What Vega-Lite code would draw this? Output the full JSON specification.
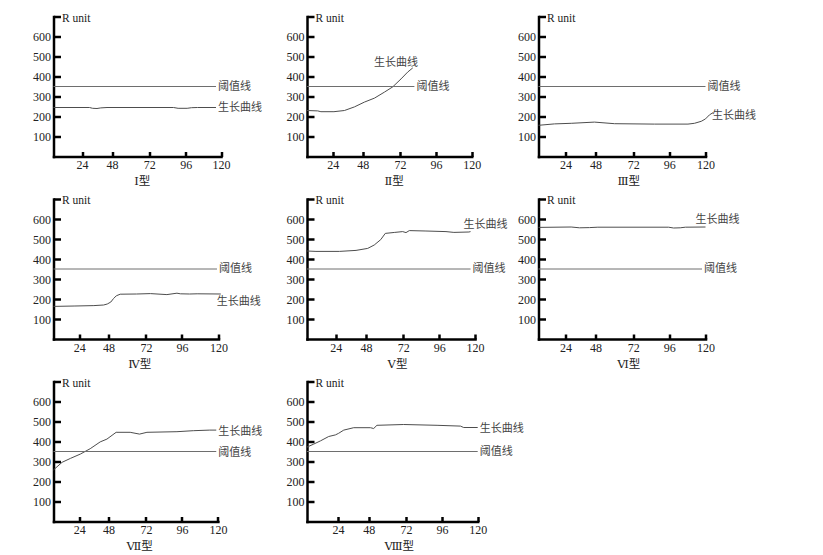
{
  "$schema": "https://vega.github.io/schema/vega-lite/v6.json",
  "background": "white",
  "padding": {"left": 32.5, "top": 10.5, "right": 0, "bottom": 0},
  "datasets": {
    "curves": [
      {"p":"Ⅰ","s":"生长曲线","x":0,"y":245},{"p":"Ⅰ","s":"生长曲线","x":30,"y":245},{"p":"Ⅰ","s":"生长曲线","x":32.5,"y":241},{"p":"Ⅰ","s":"生长曲线","x":36,"y":240},{"p":"Ⅰ","s":"生长曲线","x":39,"y":243},{"p":"Ⅰ","s":"生长曲线","x":44,"y":245},{"p":"Ⅰ","s":"生长曲线","x":88,"y":245},{"p":"Ⅰ","s":"生长曲线","x":91,"y":241},{"p":"Ⅰ","s":"生长曲线","x":97,"y":241},{"p":"Ⅰ","s":"生长曲线","x":100,"y":244},{"p":"Ⅰ","s":"生长曲线","x":104,"y":245},{"p":"Ⅰ","s":"生长曲线","x":116.6,"y":245},
      {"p":"Ⅰ","s":"阈值线","x":0,"y":350},{"p":"Ⅰ","s":"阈值线","x":116.6,"y":350},
      {"p":"Ⅱ","s":"生长曲线","x":0,"y":230},{"p":"Ⅱ","s":"生长曲线","x":10,"y":228},{"p":"Ⅱ","s":"生长曲线","x":13,"y":224},{"p":"Ⅱ","s":"生长曲线","x":25,"y":224},{"p":"Ⅱ","s":"生长曲线","x":33.4,"y":230},{"p":"Ⅱ","s":"生长曲线","x":41.4,"y":248},{"p":"Ⅱ","s":"生长曲线","x":49.1,"y":272},{"p":"Ⅱ","s":"生长曲线","x":55.6,"y":292},{"p":"Ⅱ","s":"生长曲线","x":62,"y":322},{"p":"Ⅱ","s":"生长曲线","x":67.3,"y":348},{"p":"Ⅱ","s":"生长曲线","x":72.7,"y":388},{"p":"Ⅱ","s":"生长曲线","x":77.1,"y":422},{"p":"Ⅱ","s":"生长曲线","x":80.5,"y":443},
      {"p":"Ⅱ","s":"阈值线","x":0,"y":350},{"p":"Ⅱ","s":"阈值线","x":81.6,"y":350},
      {"p":"Ⅲ","s":"生长曲线","x":0,"y":156},{"p":"Ⅲ","s":"生长曲线","x":14.2,"y":163},{"p":"Ⅲ","s":"生长曲线","x":28.6,"y":166},{"p":"Ⅲ","s":"生长曲线","x":47.2,"y":172},{"p":"Ⅲ","s":"生长曲线","x":60.1,"y":164},{"p":"Ⅲ","s":"生长曲线","x":86.2,"y":162},{"p":"Ⅲ","s":"生长曲线","x":108.4,"y":162},{"p":"Ⅲ","s":"生长曲线","x":112.7,"y":166},{"p":"Ⅲ","s":"生长曲线","x":117.2,"y":176},{"p":"Ⅲ","s":"生长曲线","x":120,"y":188},{"p":"Ⅲ","s":"生长曲线","x":122.6,"y":208},{"p":"Ⅲ","s":"生长曲线","x":124.9,"y":219},
      {"p":"Ⅲ","s":"阈值线","x":0,"y":350},{"p":"Ⅲ","s":"阈值线","x":120,"y":350},
      {"p":"Ⅳ","s":"生长曲线","x":0,"y":163},{"p":"Ⅳ","s":"生长曲线","x":20,"y":165},{"p":"Ⅳ","s":"生长曲线","x":36,"y":167},{"p":"Ⅳ","s":"生长曲线","x":44,"y":170},{"p":"Ⅳ","s":"生长曲线","x":47,"y":175},{"p":"Ⅳ","s":"生长曲线","x":49.5,"y":185},{"p":"Ⅳ","s":"生长曲线","x":51.2,"y":202},{"p":"Ⅳ","s":"生长曲线","x":53,"y":216},{"p":"Ⅳ","s":"生长曲线","x":55.5,"y":224},{"p":"Ⅳ","s":"生长曲线","x":66,"y":225},{"p":"Ⅳ","s":"生长曲线","x":75,"y":227},{"p":"Ⅳ","s":"生长曲线","x":86,"y":222},{"p":"Ⅳ","s":"生长曲线","x":92.7,"y":229},{"p":"Ⅳ","s":"生长曲线","x":95,"y":226},{"p":"Ⅳ","s":"生长曲线","x":101,"y":225},{"p":"Ⅳ","s":"生长曲线","x":106,"y":226},{"p":"Ⅳ","s":"生长曲线","x":121.5,"y":225},
      {"p":"Ⅳ","s":"阈值线","x":0,"y":350},{"p":"Ⅳ","s":"阈值线","x":119,"y":350},
      {"p":"Ⅴ","s":"生长曲线","x":0,"y":440},{"p":"Ⅴ","s":"生长曲线","x":7.5,"y":438},{"p":"Ⅴ","s":"生长曲线","x":26.9,"y":438},{"p":"Ⅴ","s":"生长曲线","x":40.1,"y":443},{"p":"Ⅴ","s":"生长曲线","x":49.1,"y":453},{"p":"Ⅴ","s":"生长曲线","x":53.3,"y":470},{"p":"Ⅴ","s":"生长曲线","x":57.5,"y":497},{"p":"Ⅴ","s":"生长曲线","x":60.4,"y":528},{"p":"Ⅴ","s":"生长曲线","x":66.5,"y":533},{"p":"Ⅴ","s":"生长曲线","x":71.6,"y":537},{"p":"Ⅴ","s":"生长曲线","x":73.8,"y":532},{"p":"Ⅴ","s":"生长曲线","x":76,"y":542},{"p":"Ⅴ","s":"生长曲线","x":87.1,"y":540},{"p":"Ⅴ","s":"生长曲线","x":100.5,"y":537},{"p":"Ⅴ","s":"生长曲线","x":105.8,"y":533},{"p":"Ⅴ","s":"生长曲线","x":115.9,"y":535},{"p":"Ⅴ","s":"生长曲线","x":117,"y":537},
      {"p":"Ⅴ","s":"阈值线","x":0,"y":350},{"p":"Ⅴ","s":"阈值线","x":117,"y":350},
      {"p":"Ⅵ","s":"生长曲线","x":0,"y":558},{"p":"Ⅵ","s":"生长曲线","x":28.5,"y":560},{"p":"Ⅵ","s":"生长曲线","x":35.2,"y":556},{"p":"Ⅵ","s":"生长曲线","x":43.2,"y":557},{"p":"Ⅵ","s":"生长曲线","x":49.5,"y":559},{"p":"Ⅵ","s":"生长曲线","x":95.6,"y":559},{"p":"Ⅵ","s":"生长曲线","x":98.9,"y":555},{"p":"Ⅵ","s":"生长曲线","x":103.3,"y":556},{"p":"Ⅵ","s":"生长曲线","x":106.7,"y":559},{"p":"Ⅵ","s":"生长曲线","x":120,"y":560},
      {"p":"Ⅵ","s":"阈值线","x":0,"y":350},{"p":"Ⅵ","s":"阈值线","x":117.7,"y":350},
      {"p":"Ⅶ","s":"生长曲线","x":0,"y":258},{"p":"Ⅶ","s":"生长曲线","x":8,"y":296},{"p":"Ⅶ","s":"生长曲线","x":16,"y":316},{"p":"Ⅶ","s":"生长曲线","x":24.9,"y":337},{"p":"Ⅶ","s":"生长曲线","x":33,"y":364},{"p":"Ⅶ","s":"生长曲线","x":41.2,"y":398},{"p":"Ⅶ","s":"生长曲线","x":46.7,"y":412},{"p":"Ⅶ","s":"生长曲线","x":52.9,"y":446},{"p":"Ⅶ","s":"生长曲线","x":61.9,"y":446},{"p":"Ⅶ","s":"生长曲线","x":67.9,"y":437},{"p":"Ⅶ","s":"生长曲线","x":72.7,"y":446},{"p":"Ⅶ","s":"生长曲线","x":92.7,"y":449},{"p":"Ⅶ","s":"生长曲线","x":103.6,"y":454},{"p":"Ⅶ","s":"生长曲线","x":114.6,"y":457},{"p":"Ⅶ","s":"生长曲线","x":118.9,"y":457},
      {"p":"Ⅶ","s":"阈值线","x":0,"y":350},{"p":"Ⅶ","s":"阈值线","x":118.9,"y":350},
      {"p":"Ⅷ","s":"生长曲线","x":0,"y":372},{"p":"Ⅷ","s":"生长曲线","x":5.2,"y":387},{"p":"Ⅷ","s":"生长曲线","x":10.4,"y":403},{"p":"Ⅷ","s":"生长曲线","x":16.8,"y":425},{"p":"Ⅷ","s":"生长曲线","x":22,"y":433},{"p":"Ⅷ","s":"生长曲线","x":24.5,"y":441},{"p":"Ⅷ","s":"生长曲线","x":28.5,"y":457},{"p":"Ⅷ","s":"生长曲线","x":36.3,"y":469},{"p":"Ⅷ","s":"生长曲线","x":49.1,"y":469},{"p":"Ⅷ","s":"生长曲线","x":51.2,"y":465},{"p":"Ⅷ","s":"生长曲线","x":53.3,"y":481},{"p":"Ⅷ","s":"生长曲线","x":70.5,"y":485},{"p":"Ⅷ","s":"生长曲线","x":92.7,"y":481},{"p":"Ⅷ","s":"生长曲线","x":108.4,"y":477},{"p":"Ⅷ","s":"生长曲线","x":110.6,"y":470},{"p":"Ⅷ","s":"生长曲线","x":120,"y":470},
      {"p":"Ⅷ","s":"阈值线","x":0,"y":350},{"p":"Ⅷ","s":"阈值线","x":120,"y":350}
    ],
    "labels": [
      {"p":"Ⅰ","t":"阈值线","x":116.6,"y":350},{"p":"Ⅰ","t":"生长曲线","x":116.6,"y":245},
      {"p":"Ⅱ","t":"阈值线","x":81.6,"y":350},{"p":"Ⅱ","t":"生长曲线","x":54,"y":467},
      {"p":"Ⅲ","t":"阈值线","x":120,"y":350},{"p":"Ⅲ","t":"生长曲线","x":123,"y":205},
      {"p":"Ⅳ","t":"阈值线","x":119,"y":350},{"p":"Ⅳ","t":"生长曲线","x":117.5,"y":187},
      {"p":"Ⅴ","t":"阈值线","x":117,"y":350},{"p":"Ⅴ","t":"生长曲线","x":111,"y":570},
      {"p":"Ⅵ","t":"阈值线","x":117.7,"y":350},{"p":"Ⅵ","t":"生长曲线","x":112,"y":595},
      {"p":"Ⅶ","t":"阈值线","x":118.9,"y":345},{"p":"Ⅶ","t":"生长曲线","x":118.9,"y":450},
      {"p":"Ⅷ","t":"阈值线","x":120,"y":350},{"p":"Ⅷ","t":"生长曲线","x":120,"y":465}
    ]
  },
  "concat": [
    {"width": 193, "height": 140,
     "encoding": {
       "x": {"field": "x", "type": "quantitative", "scale": {"domain": [0,24,48,72,96,120], "range": [0,28.5,58.5,95.8,132.2,167.5]}, "axis": {"values": [24,48,72,96,120], "title": "Ⅰ型", "titleX": 88.2}},
       "y": {"field": "y", "type": "quantitative", "scale": {"domain": [0,700]}, "axis": {"values": [100,200,300,400,500,600,700], "labelExpr": "datum.value == 700 ? '' : datum.label", "title": "R unit"}}},
     "layer": [
       {"data": {"name": "curves"}, "transform": [{"filter": "datum.p == 'Ⅰ'"}], "mark": {"type": "line", "strokeWidth": 1}, "encoding": {"color": {"field": "s", "type": "nominal", "scale": {"domain": ["生长曲线","阈值线"], "range": ["#4d4d4d","#6e6e6e"]}, "legend": null}}},
       {"data": {"name": "labels"}, "transform": [{"filter": "datum.p == 'Ⅰ'"}], "mark": {"type": "text", "align": "left", "baseline": "middle", "dx": 2, "font": "Noto Sans CJK SC", "fontSize": 11, "color": "#444"}, "encoding": {"text": {"field": "t"}}}
     ]},
    {"width": 164.7, "height": 140,
     "encoding": {
       "x": {"field": "x", "type": "quantitative", "scale": {"domain": [0,24,48,72,96,120], "range": [0,25.7,55.7,93,129,164.7]}, "axis": {"values": [24,48,72,96,120], "title": "Ⅱ型", "titleX": 86.7}},
       "y": {"field": "y", "type": "quantitative", "scale": {"domain": [0,700]}, "axis": {"values": [100,200,300,400,500,600,700], "labelExpr": "datum.value == 700 ? '' : datum.label", "title": "R unit"}}},
     "layer": [
       {"data": {"name": "curves"}, "transform": [{"filter": "datum.p == 'Ⅱ'"}], "mark": {"type": "line", "strokeWidth": 1}, "encoding": {"color": {"field": "s", "type": "nominal", "scale": {"domain": ["生长曲线","阈值线"], "range": ["#4d4d4d","#6e6e6e"]}, "legend": null}}},
       {"data": {"name": "labels"}, "transform": [{"filter": "datum.p == 'Ⅱ'"}], "mark": {"type": "text", "align": "left", "baseline": "middle", "dx": 2, "font": "Noto Sans CJK SC", "fontSize": 11, "color": "#444"}, "encoding": {"text": {"field": "t"}}}
     ]},
    {"width": 167, "height": 140,
     "encoding": {
       "x": {"field": "x", "type": "quantitative", "scale": {"domain": [0,24,48,72,96,120], "range": [0,27,57,94.7,130.7,167]}, "axis": {"values": [24,48,72,96,120], "title": "Ⅲ型", "titleX": 89.7}},
       "y": {"field": "y", "type": "quantitative", "scale": {"domain": [0,700]}, "axis": {"values": [100,200,300,400,500,600,700], "labelExpr": "datum.value == 700 ? '' : datum.label", "title": "R unit"}}},
     "layer": [
       {"data": {"name": "curves"}, "transform": [{"filter": "datum.p == 'Ⅲ'"}], "mark": {"type": "line", "strokeWidth": 1}, "encoding": {"color": {"field": "s", "type": "nominal", "scale": {"domain": ["生长曲线","阈值线"], "range": ["#4d4d4d","#6e6e6e"]}, "legend": null}}},
       {"data": {"name": "labels"}, "transform": [{"filter": "datum.p == 'Ⅲ'"}], "mark": {"type": "text", "align": "left", "baseline": "middle", "dx": 2, "font": "Noto Sans CJK SC", "fontSize": 11, "color": "#444"}, "encoding": {"text": {"field": "t"}}}
     ]},
    {"width": 189.7, "height": 140,
     "encoding": {
       "x": {"field": "x", "type": "quantitative", "scale": {"domain": [0,24,48,72,96,120], "range": [0,25.7,55,92.4,128.4,165]}, "axis": {"values": [24,48,72,96,120], "title": "Ⅳ型", "titleX": 85.8}},
       "y": {"field": "y", "type": "quantitative", "scale": {"domain": [0,700]}, "axis": {"values": [100,200,300,400,500,600,700], "labelExpr": "datum.value == 700 ? '' : datum.label", "title": "R unit"}}},
     "layer": [
       {"data": {"name": "curves"}, "transform": [{"filter": "datum.p == 'Ⅳ'"}], "mark": {"type": "line", "strokeWidth": 1}, "encoding": {"color": {"field": "s", "type": "nominal", "scale": {"domain": ["生长曲线","阈值线"], "range": ["#4d4d4d","#6e6e6e"]}, "legend": null}}},
       {"data": {"name": "labels"}, "transform": [{"filter": "datum.p == 'Ⅳ'"}], "mark": {"type": "text", "align": "left", "baseline": "middle", "dx": 2, "font": "Noto Sans CJK SC", "fontSize": 11, "color": "#444"}, "encoding": {"text": {"field": "t"}}}
     ]},
    {"width": 168, "height": 140,
     "encoding": {
       "x": {"field": "x", "type": "quantitative", "scale": {"domain": [0,24,48,72,96,120], "range": [0,28.7,59,96.3,132.3,168]}, "axis": {"values": [24,48,72,96,120], "title": "Ⅴ型", "titleX": 90}},
       "y": {"field": "y", "type": "quantitative", "scale": {"domain": [0,700]}, "axis": {"values": [100,200,300,400,500,600,700], "labelExpr": "datum.value == 700 ? '' : datum.label", "title": "R unit"}}},
     "layer": [
       {"data": {"name": "curves"}, "transform": [{"filter": "datum.p == 'Ⅴ'"}], "mark": {"type": "line", "strokeWidth": 1}, "encoding": {"color": {"field": "s", "type": "nominal", "scale": {"domain": ["生长曲线","阈值线"], "range": ["#4d4d4d","#6e6e6e"]}, "legend": null}}},
       {"data": {"name": "labels"}, "transform": [{"filter": "datum.p == 'Ⅴ'"}], "mark": {"type": "text", "align": "left", "baseline": "middle", "dx": 2, "font": "Noto Sans CJK SC", "fontSize": 11, "color": "#444"}, "encoding": {"text": {"field": "t"}}}
     ]},
    {"width": 167, "height": 140,
     "encoding": {
       "x": {"field": "x", "type": "quantitative", "scale": {"domain": [0,24,48,72,96,120], "range": [0,27,57,94.7,130.7,167]}, "axis": {"values": [24,48,72,96,120], "title": "Ⅵ型", "titleX": 89.7}},
       "y": {"field": "y", "type": "quantitative", "scale": {"domain": [0,700]}, "axis": {"values": [100,200,300,400,500,600,700], "labelExpr": "datum.value == 700 ? '' : datum.label", "title": "R unit"}}},
     "layer": [
       {"data": {"name": "curves"}, "transform": [{"filter": "datum.p == 'Ⅵ'"}], "mark": {"type": "line", "strokeWidth": 1}, "encoding": {"color": {"field": "s", "type": "nominal", "scale": {"domain": ["生长曲线","阈值线"], "range": ["#4d4d4d","#6e6e6e"]}, "legend": null}}},
       {"data": {"name": "labels"}, "transform": [{"filter": "datum.p == 'Ⅵ'"}], "mark": {"type": "text", "align": "left", "baseline": "middle", "dx": 2, "font": "Noto Sans CJK SC", "fontSize": 11, "color": "#444"}, "encoding": {"text": {"field": "t"}}}
     ]},
    {"width": 187, "height": 140,
     "encoding": {
       "x": {"field": "x", "type": "quantitative", "scale": {"domain": [0,24,48,72,96,120], "range": [0,25.7,55,92.4,128.4,164.4]}, "axis": {"values": [24,48,72,96,120], "title": "Ⅶ型", "titleX": 85.7}},
       "y": {"field": "y", "type": "quantitative", "scale": {"domain": [0,700]}, "axis": {"values": [100,200,300,400,500,600,700], "labelExpr": "datum.value == 700 ? '' : datum.label", "title": "R unit"}}},
     "layer": [
       {"data": {"name": "curves"}, "transform": [{"filter": "datum.p == 'Ⅶ'"}], "mark": {"type": "line", "strokeWidth": 1}, "encoding": {"color": {"field": "s", "type": "nominal", "scale": {"domain": ["生长曲线","阈值线"], "range": ["#4d4d4d","#6e6e6e"]}, "legend": null}}},
       {"data": {"name": "labels"}, "transform": [{"filter": "datum.p == 'Ⅶ'"}], "mark": {"type": "text", "align": "left", "baseline": "middle", "dx": 2, "font": "Noto Sans CJK SC", "fontSize": 11, "color": "#444"}, "encoding": {"text": {"field": "t"}}}
     ]},
    {"width": 170.7, "height": 140,
     "encoding": {
       "x": {"field": "x", "type": "quantitative", "scale": {"domain": [0,24,48,72,96,120], "range": [0,31,61.7,99,135,170.7]}, "axis": {"values": [24,48,72,96,120], "title": "Ⅷ型", "titleX": 91.7}},
       "y": {"field": "y", "type": "quantitative", "scale": {"domain": [0,700]}, "axis": {"values": [100,200,300,400,500,600,700], "labelExpr": "datum.value == 700 ? '' : datum.label", "title": "R unit"}}},
     "layer": [
       {"data": {"name": "curves"}, "transform": [{"filter": "datum.p == 'Ⅷ'"}], "mark": {"type": "line", "strokeWidth": 1}, "encoding": {"color": {"field": "s", "type": "nominal", "scale": {"domain": ["生长曲线","阈值线"], "range": ["#4d4d4d","#6e6e6e"]}, "legend": null}}},
       {"data": {"name": "labels"}, "transform": [{"filter": "datum.p == 'Ⅷ'"}], "mark": {"type": "text", "align": "left", "baseline": "middle", "dx": 2, "font": "Noto Sans CJK SC", "fontSize": 11, "color": "#444"}, "encoding": {"text": {"field": "t"}}}
     ]}
  ],
  "columns": 3,
  "spacing": {"row": 42.5, "column": 60.5},
  "align": {"row": "all", "column": "none"},
  "bounds": "flush",
  "resolve": {"scale": {"x": "independent", "y": "independent"}},
  "config": {
    "view": {"stroke": null},
    "axis": {"grid": false, "domainColor": "#000", "domainWidth": 2.5, "domainCap": "square", "tickColor": "#000", "tickWidth": 2.5, "labelFont": "Liberation Serif", "labelFontSize": 12, "labelColor": "#222", "labelFlush": false, "labelOverlap": false, "titleFont": "Liberation Serif, DejaVu Serif, Noto Sans CJK SC", "titleFontSize": 11.5, "titleFontWeight": "normal", "titleColor": "#222"},
    "axisX": {"tickSize": -5, "labelPadding": 8, "titleY": 25, "titleBaseline": "middle", "titleAnchor": "middle", "titleAlign": "center"},
    "axisY": {"tickSize": -7, "labelPadding": 10, "titleAngle": 0, "titleAlign": "left", "titleBaseline": "middle", "titleX": 8, "titleY": 1.5}
  }
}
